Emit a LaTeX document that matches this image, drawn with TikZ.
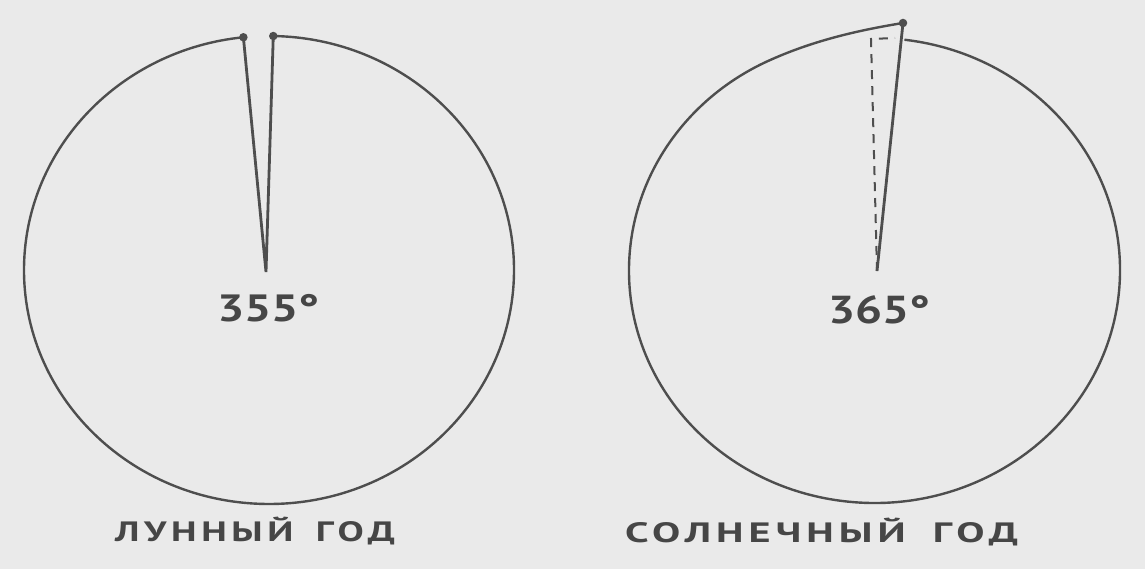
\documentclass[tikz,border=0pt]{standalone}
\usepackage{fontspec}
\usepackage{graphicx}
\setsansfont{PT Sans}
\newfontfamily\handfont[LetterSpace=12]{PT Sans}
\definecolor{paper}{RGB}{234,234,234}
\definecolor{ink}{RGB}{78,78,78}
\definecolor{txt}{RGB}{70,70,70}
\begin{document}
\begin{tikzpicture}[x=1pt,y=1pt,
  every node/.style={inner sep=0pt, outer sep=0pt, text=txt},
  rim/.style={draw=ink, line width=2.4pt},
  spoke/.style={draw=ink, line width=2.8pt},
  guide/.style={draw=ink, line width=2pt, dash pattern=on 9pt off 7pt},
  dotmark/.style={circle, fill=ink, minimum size=8.5pt, inner sep=0pt}]
\fill[paper] (0,0) rectangle (1145,569);
\useasboundingbox (0,0) rectangle (1145,569);

% ---------- left: lunar year ----------
\coordinate (cL) at (269,299);
\coordinate (aL) at (266,297);
\coordinate (pL1) at ([shift={(96:245 and 234)}]cL);
\coordinate (pL2) at ([shift={(89:245 and 234)}]cL);
\draw[rim] (pL2) arc[start angle=89, end angle=-264, x radius=245, y radius=234];
\node[dotmark] (dL1) at (pL1) {};
\node[dotmark] (dL2) at (pL2) {};
\draw[spoke] (dL1.center) -- (aL) -- (dL2.center);

% ---------- right: solar year ----------
\coordinate (cR) at (874.5,298.5);
\coordinate (aR) at (877,298);
\coordinate (sR) at ([shift={(83:245.5 and 232.5)}]cR);
\node[dotmark] (dR) at (903,546) {};
\draw[rim] (sR) arc[start angle=83, end angle=-245, x radius=245.5, y radius=232.5]
  .. controls (815,529) and (860,539) .. (dR.center);
\draw[spoke] (dR.center) -- (aR);
\coordinate (kR) at (871,530);
\coordinate (eR) at (895,531);
\draw[guide] (aR) -- (kR) -- (eR);

% ---------- texts ----------
\node[anchor=base west] (numL) at (217,247)
  {\resizebox{103pt}{\height}{\fontsize{38}{40}\selectfont\sffamily\bfseries 355°}};
\node[anchor=base west] (numR) at (828,245)
  {\resizebox{102pt}{\height}{\fontsize{39}{40}\selectfont\sffamily\bfseries 365°}};
\node[anchor=base west] (labL) at (115,27)
  {\resizebox{280pt}{\height}{\fontsize{28}{30}\selectfont\handfont\bfseries ЛУННЫЙ\hspace{16pt}ГОД}};
\node[anchor=base west] (labR) at (625,26)
  {\resizebox{393pt}{\height}{\fontsize{28}{30}\selectfont\handfont\bfseries СОЛНЕЧНЫЙ\hspace{18pt}ГОД}};
\end{tikzpicture}
\end{document}
